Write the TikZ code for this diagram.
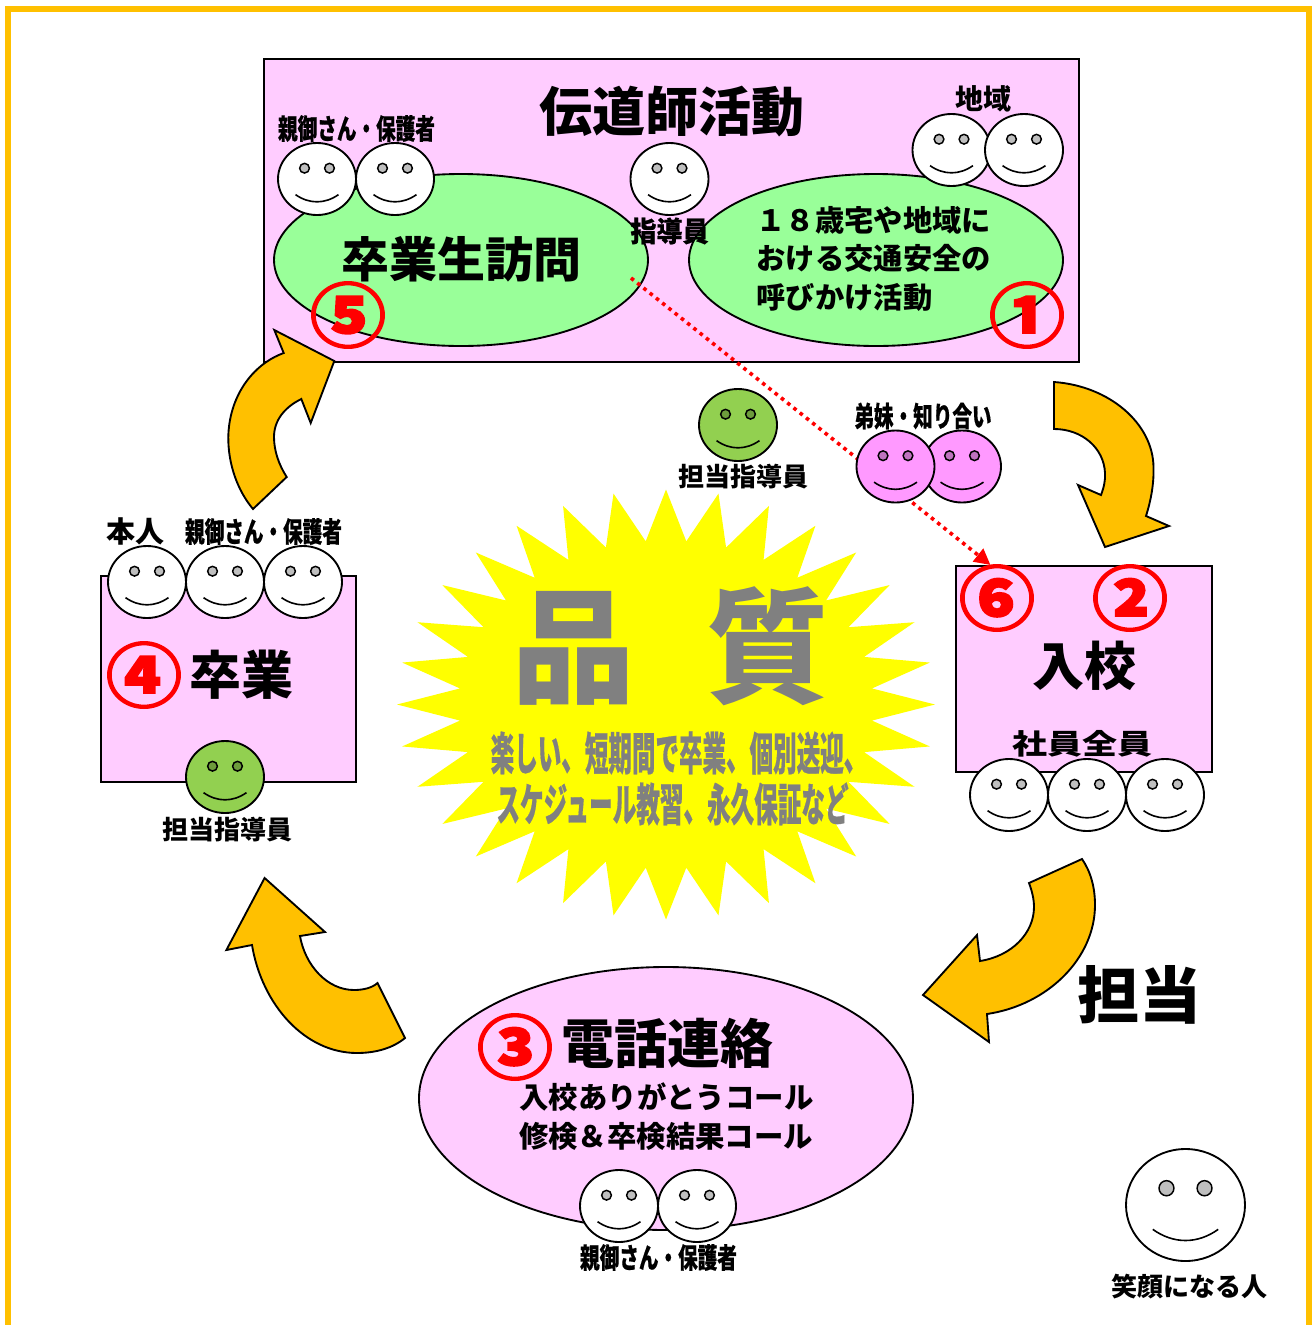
\documentclass[tikz,border=0pt]{standalone}
\usepackage{fontspec}
\usetikzlibrary{arrows.meta,shapes.geometric}
\newfontfamily\jp{Noto Sans CJK JP Black}
\newfontfamily\jpb[FakeBold=2.2]{Noto Sans CJK JP Black}
\newfontfamily\jps[FakeBold=0.6]{Noto Sans CJK JP Black}
\newdimen\fz
\newcommand\tx[4]{\scalebox{#2}[#3]{\fz=#1pt \fz=0.75\fz \fontsize{\fz}{\fz}\selectfont #4}}
\definecolor{pinkbg}{HTML}{FFCCFF}
\definecolor{greenbg}{HTML}{99FF99}
\definecolor{arrorange}{HTML}{FFC000}
\definecolor{olive}{HTML}{92D050}
\definecolor{facepink}{HTML}{FF99FF}
\definecolor{greytx}{HTML}{808080}
\definecolor{staryellow}{HTML}{FFFF00}
\definecolor{purered}{HTML}{FF0000}
\tikzset{
 ln/.style={line width=1.4pt,draw=black},
 pinkbox/.style={rectangle,ln,fill=pinkbg,inner sep=0pt},
 greenell/.style={ellipse,ln,fill=greenbg,inner sep=0pt,minimum width=280.5pt,minimum height=129pt},
 pinkell/.style={ellipse,ln,fill=pinkbg,inner sep=0pt},
 lab/.style={inner sep=0pt,outer sep=0pt,font=\jp},
 slab/.style={inner sep=0pt,outer sep=0pt,font=\jps},
 num/.style={inner sep=0pt,outer sep=0pt,text=purered,font=\jpb},
 curve/.style={ln,fill=arrorange,line join=miter},
}
% name, x, y, rx, ry, fill
\newcommand\face[6]{%
 \coordinate (#1) at (#2,#3);
 \begin{scope}[shift={(#2,#3)},x=#4*0.75pt,y=-#5*0.75pt]
  \draw[ln,fill=#6] (0,0) ellipse [x radius=1,y radius=1];
  \draw[line width=1.1pt,fill=#6!75!black] (-0.32,-0.30) ellipse [x radius=0.125,y radius=0.135];
  \draw[line width=1.1pt,fill=#6!75!black] (0.32,-0.30) ellipse [x radius=0.125,y radius=0.135];
  \draw[line width=1.2pt] (-0.55,0.435) .. controls (-0.2,0.70) and (0.2,0.70) .. (0.55,0.435);
 \end{scope}}
\begin{document}
\begin{tikzpicture}[x=0.75pt,y=-0.75pt]
\useasboundingbox (0,0) rectangle (1313,1325);
\draw[draw=arrorange,line width=4.6pt] (8.3,1340) -- (8.3,9) -- (1309,9) -- (1309,1340);

% top block
\node[pinkbox,minimum width=611.25pt,minimum height=227.25pt] (topbox) at (671.5,210.5) {};
\node[greenell] (visit) at (461,260) {};
\node[greenell] (local) at (876,260) {};
\node[lab] (ttl) at (672,111.5) {\tx{53}{1}{1}{伝道師活動}};
\node[lab] (visitt) at (461,259) {\tx{48}{1}{1}{卒業生訪問}};
\node[lab,anchor=west] (l1) at (756.5,220) {\tx{29.3}{1}{1}{１８歳宅や地域に}};
\node[lab,anchor=west] (l2) at (756.5,258.5) {\tx{29.3}{1}{1}{おける交通安全の}};
\node[lab,anchor=west] (l3) at (756.5,297) {\tx{29.3}{1}{1}{呼びかけ活動}};
\node[slab] (p1) at (356.5,128.5) {\tx{28}{.7}{1}{親御さん・保護者}};
\node[lab] (reg) at (983.5,99) {\tx{28}{1}{1}{地域}};
\face{f1}{317}{179}{39}{36}{white}
\face{f2}{395}{179}{39}{36}{white}
\face{f3}{669.5}{179}{39}{36}{white}
\face{f4}{951.5}{150}{39}{36}{white}
\face{f5}{1024}{150}{39}{36}{white}
\node[slab] (inst) at (669.5,231) {\tx{28}{.93}{1}{指導員}};
\node[num] (n5) at (348,315) {\tx{76}{1}{.92}{⑤}};
\node[num] (n1) at (1027,315) {\tx{76}{1}{.92}{①}};

% star
\fill[staryellow] ({666+269*sin(0)},{704.5-215*cos(0)})
 \foreach \i in {1,...,63}{ -- ({666+(mod(\i,2)==0?269:207)*sin(\i*5.625)},{704.5-(mod(\i,2)==0?215:164)*cos(\i*5.625)}) } -- cycle;
\node[lab,text=greytx] (q) at (670.5,646) {\tx{125}{.98}{1}{品\hspace{55pt}質}};
\node[slab,text=greytx] (q1) at (679,753) {\tx{45}{.523}{1}{楽しい、短期間で卒業、個別送迎、}};
\node[slab,text=greytx] (q2) at (672.5,804) {\tx{45}{.524}{1}{スケジュール教習、永久保証など}};

% right box
\node[pinkbox,minimum width=192pt,minimum height=154.5pt] (entry) at (1084,669) {};
\coordinate (arrowend) at (990.5,565);
\coordinate (arrowstart) at (631,278);
\draw[purered,line width=2.7pt,dash pattern=on 2.7pt off 3.3pt,-{Triangle[length=12pt,width=12pt]}] (arrowstart) -- (arrowend);
\node[num] (n6) at (997,598) {\tx{76}{1}{.92}{⑥}};
\node[num] (n2) at (1130,598) {\tx{76}{1}{.92}{②}};
\node[lab] (ent) at (1084,666) {\tx{52}{1}{1}{入校}};
\node[lab] (staff) at (1082,744) {\tx{28}{1.25}{1}{社員全員}};
\face{f6}{1009}{795}{39}{36}{white}
\face{f7}{1087}{795}{39}{36}{white}
\face{f8}{1165}{795}{39}{36}{white}

% siblings
\node[slab] (sib) at (923,416) {\tx{28}{.7}{1}{弟妹・知り合い}};
\face{f10}{962}{466.5}{39}{36}{facepink}
\face{f9}{895.5}{466.5}{39}{36}{facepink}
% tanto
\face{f11}{738}{425}{39}{36}{olive}
\node[lab] (t1) at (743.5,477) {\tx{26}{1}{1}{担当指導員}};

% left box
\node[pinkbox,minimum width=191.25pt,minimum height=154.5pt] (grad) at (228.5,679) {};
\face{f12}{147}{582}{39}{36}{white}
\face{f13}{225}{582}{39}{36}{white}
\face{f14}{303}{582}{39}{36}{white}
\node[lab] (me) at (135,531) {\tx{29}{1}{1}{本人}};
\node[slab] (p2) at (263.5,531.5) {\tx{28}{.7}{1}{親御さん・保護者}};
\node[num] (n4) at (144,675) {\tx{76}{1}{.92}{④}};
\node[lab] (gradt) at (241.5,675) {\tx{52}{1}{1}{卒業}};
\face{f15}{225}{777}{39}{36}{olive}
\node[lab] (t2) at (227,830) {\tx{26}{1}{1}{担当指導員}};

% bottom
\node[pinkell,minimum width=370.5pt,minimum height=197.25pt] (phone) at (666,1098.5) {};
\node[num] (n3) at (515,1047) {\tx{76}{1}{.92}{③}};
\node[lab] (pht) at (667,1043) {\tx{53}{1}{1}{電話連絡}};
\node[lab] (ph1) at (666.5,1097) {\tx{29.4}{1}{1}{入校ありがとうコール}};
\node[lab] (ph2) at (666,1136) {\tx{29.4}{1}{1}{修検＆卒検結果コール}};
\face{f16}{619}{1206}{39}{36}{white}
\face{f17}{697}{1206}{39}{36}{white}
\node[slab] (p3) at (658.5,1257.5) {\tx{28}{.7}{1}{親御さん・保護者}};

\node[lab] (tanto) at (1139,995) {\tx{62}{1}{1}{担当}};
\face{f18}{1185.5}{1205}{59.5}{56}{white}
\node[lab] (smile) at (1189,1287) {\tx{26}{1}{1}{笑顔になる人}};

% curved arrows
\draw[curve] (1054,382) .. controls (1110,386) and (1153,424) .. (1153.5,467) .. controls (1154,484) and (1151,500) .. (1146,516) -- (1169,526) -- (1105,547) -- (1078,485) -- (1101,495) .. controls (1104,487) and (1105.5,480) .. (1105,473) .. controls (1104,448) and (1082,429) .. (1054,429) -- cycle;
\draw[curve] (253,509) .. controls (237,490) and (228,463) .. (228.3,437) .. controls (229,398) and (251,365) .. (283.7,353) -- (274.3,330) -- (334.3,361) -- (310.7,423) -- (301.3,399) .. controls (285,407) and (274,420) .. (274,437) .. controls (274,451) and (279,465) .. (286.7,477) -- cycle;
\draw[curve] (1082,859) .. controls (1091,872) and (1095,888) .. (1095,905) .. controls (1095,958) and (1048,1005) .. (987,1014) -- (989,1042) -- (923,995) -- (977,935) -- (980,961) .. controls (1012,956) and (1034,933) .. (1034,907) .. controls (1034,899) and (1032,891) .. (1029,883) -- cycle;
\draw[curve] (264.6,878) -- (325,932) -- (300,936) .. controls (305,965) and (327,990) .. (354,990) .. controls (363,990) and (372,988) .. (377.5,983) -- (405,1038) .. controls (393,1048) and (376,1053) .. (357,1053) .. controls (305,1053) and (262,1005) .. (252,945) -- (226.4,950) -- cycle;
\end{tikzpicture}
\end{document}
